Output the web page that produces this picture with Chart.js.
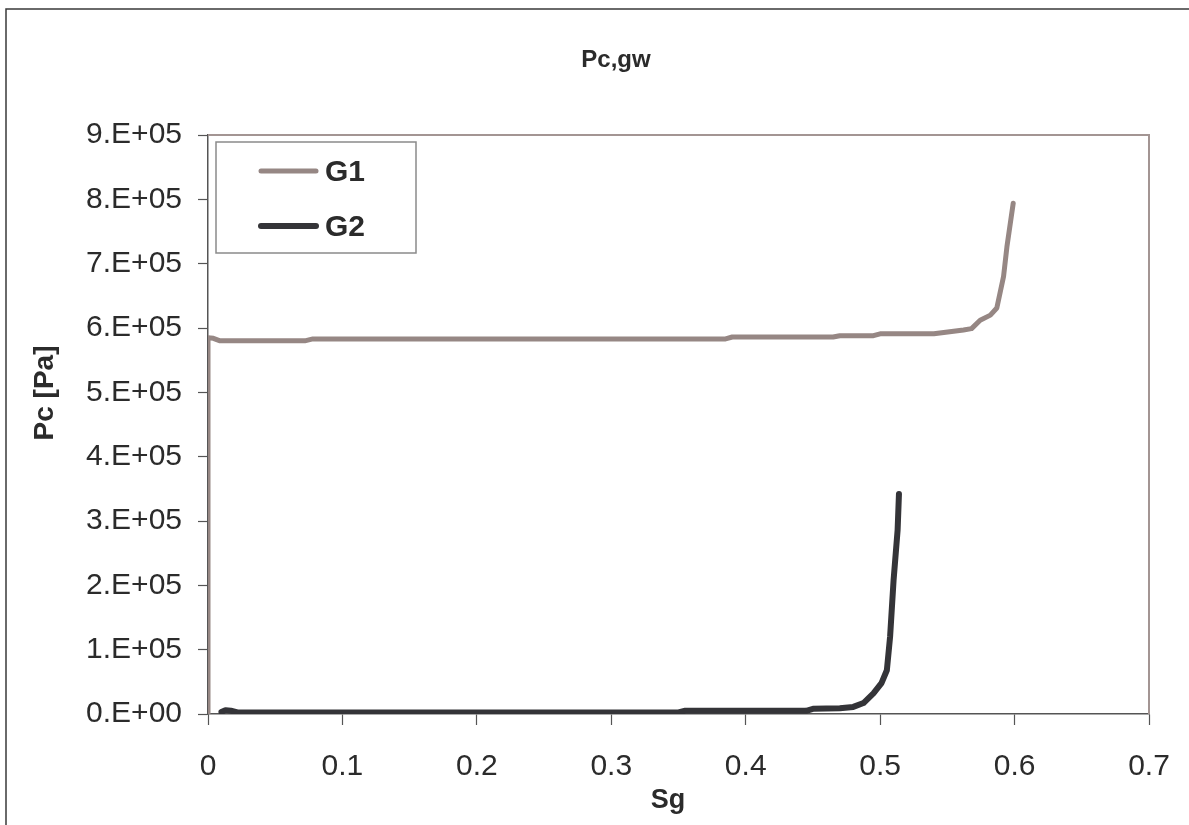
<!DOCTYPE html>
<html>
<head>
<meta charset="utf-8">
<script src="https://cdn.jsdelivr.net/npm/chart.js@4.4.0/dist/chart.umd.min.js"></script>
<style>
  html, body { margin: 0; padding: 0; background: #fff; }
  canvas { display: block; }
</style>
</head>
<body>
<canvas id="pcChart" width="1189" height="825"></canvas>
<script>
// Sg / Pc readings for the two curves
const g1Sg = [0, 0, 0.004, 0.009, 0.072, 0.078, 0.385, 0.39, 0.465, 0.47, 0.495, 0.50, 0.54, 0.562, 0.568, 0.5744, 0.582, 0.5868, 0.5918, 0.5943, 0.599];
const g1Pc = [0, 5.85e5, 5.84e5, 5.80e5, 5.80e5, 5.83e5, 5.83e5, 5.86e5, 5.86e5, 5.88e5, 5.88e5, 5.91e5, 5.91e5, 5.97e5, 5.99e5, 6.12e5, 6.20e5, 6.31e5, 6.80e5, 7.26e5, 7.94e5];

const g2Sg = [0.010, 0.013, 0.017, 0.022, 0.35, 0.355, 0.445, 0.45, 0.47, 0.48, 0.4876, 0.495, 0.501, 0.505, 0.5074, 0.510, 0.513, 0.514];
const g2Pc = [3e3, 6e3, 5e3, 2.5e3, 2.5e3, 5e3, 5e3, 8e3, 9e3, 1.1e4, 1.7e4, 3.2e4, 4.8e4, 6.8e4, 1.2e5, 2.08e5, 2.86e5, 3.42e5];

const seriesNames = ['G1', 'G2'];
const seriesColors = ['#968784', '#343438'];

const xTicks = [0, 0.1, 0.2, 0.3, 0.4, 0.5, 0.6, 0.7];
const yTicks = [0, 1e5, 2e5, 3e5, 4e5, 5e5, 6e5, 7e5, 8e5, 9e5];

const chartTitle = 'Pc,gw';
const xTitle = 'Sg';
const yTitle = 'Pc [Pa]';

const FONT = "'Liberation Sans', Arial, Helvetica, sans-serif";
const textColor = '#2b2b2b';

function toPoints(xs, ys) {
    return xs.map((x, i) => ({ x: x, y: ys[i] }));
}

// white page, outer frame, plot border, titles and legend box
const framePlugin = {
    id: 'frame',
    beforeDraw(chart) {
        const c = chart.ctx;
        c.save();
        c.fillStyle = '#fff';
        c.fillRect(0, 0, chart.width, chart.height);
        c.strokeStyle = '#3a3a3a';
        c.lineWidth = 1.5;
        c.beginPath();
        c.moveTo(6, chart.height);
        c.lineTo(6, 9);
        c.lineTo(chart.width, 9);
        c.stroke();
        c.restore();
    },
    beforeDatasetsDraw(chart) {
        const a = chart.chartArea;
        const c = chart.ctx;
        c.save();
        c.strokeStyle = '#a39593';
        c.lineWidth = 2;
        c.beginPath();
        c.moveTo(a.left, a.top);
        c.lineTo(a.right, a.top);
        c.lineTo(a.right, a.bottom);
        c.stroke();

        // chart and axis titles
        c.fillStyle = textColor;
        c.textAlign = 'center';
        c.textBaseline = 'middle';
        c.font = 'bold 24px ' + FONT;
        c.fillText(chartTitle, 616, 60);
        c.font = 'bold 27px ' + FONT;
        c.fillText(xTitle, 668, 801);
        c.translate(45, 393);
        c.rotate(-Math.PI / 2);
        c.font = 'bold 28px ' + FONT;
        c.fillText(yTitle, 0, 0);
        c.restore();
    },
    afterDraw(chart) {
        const a = chart.chartArea;
        const c = chart.ctx;
        const bx = a.left + 8, by = a.top + 7, bw = 200, bh = 111;
        c.save();
        c.fillStyle = '#fff';
        c.fillRect(bx, by, bw, bh);
        c.strokeStyle = '#8a8a8a';
        c.lineWidth = 1.5;
        c.strokeRect(bx, by, bw, bh);
        c.font = 'bold 30px ' + FONT;
        c.textBaseline = 'middle';
        c.lineCap = 'round';
        seriesNames.forEach((name, i) => {
            const y = by + 29 + i * 55;
            c.strokeStyle = seriesColors[i];
            c.lineWidth = i === 0 ? 5 : 6;
            c.beginPath();
            c.moveTo(bx + 45, y);
            c.lineTo(bx + 100, y);
            c.stroke();
            c.fillStyle = textColor;
            c.fillText(name, bx + 109, y + 2);
        });
        c.restore();
    }
};

const ctx = document.getElementById('pcChart');

new Chart(ctx, {
    type: 'scatter',
    data: {
        datasets: [
            {
                label: seriesNames[0],
                data: toPoints(g1Sg, g1Pc),
                showLine: true,
                borderColor: seriesColors[0],
                backgroundColor: seriesColors[0],
                borderWidth: 5,
                pointRadius: 0,
                tension: 0,
                borderJoinStyle: 'round',
                borderCapStyle: 'round'
            },
            {
                label: seriesNames[1],
                data: toPoints(g2Sg, g2Pc),
                showLine: true,
                borderColor: seriesColors[1],
                backgroundColor: seriesColors[1],
                borderWidth: 6,
                pointRadius: 0,
                tension: 0,
                borderJoinStyle: 'round',
                borderCapStyle: 'round'
            }
        ]
    },
    options: {
        responsive: false,
        animation: false,
        layout: { padding: { left: 0, right: 40, top: 135, bottom: 0 } },
        plugins: {
            legend: { display: false },
            tooltip: { enabled: false },
            title: { display: false }
        },
        scales: {
            x: {
                type: 'linear',
                min: 0,
                max: 0.7,
                afterFit(scale) {
                    scale.height = 111;
                    scale.paddingLeft = 0;
                    scale.paddingRight = 0;
                },
                afterBuildTicks(scale) { scale.ticks = xTicks.map(v => ({ value: v })); },
                border: { display: true, color: '#555', width: 1.5 },
                grid: { drawOnChartArea: false, drawTicks: true, tickLength: 11, color: '#555', tickWidth: 1.2 },
                ticks: {
                    color: textColor,
                    padding: 24,
                    maxRotation: 0,
                    font: { family: FONT, size: 30 },
                    callback: v => String(Number(v.toFixed(1)))
                }
            },
            y: {
                type: 'linear',
                min: 0,
                max: 9e5,
                afterFit(scale) { scale.width = 208; },
                afterBuildTicks(scale) { scale.ticks = yTicks.map(v => ({ value: v })); },
                border: { display: true, color: '#555', width: 1.5 },
                grid: { drawOnChartArea: false, drawTicks: true, tickLength: 10, color: '#555', tickWidth: 1.2 },
                ticks: {
                    color: textColor,
                    padding: 16,
                    font: { family: FONT, size: 30 },
                    callback: v => v === 0 ? '0.E+00' : Math.round(v / 1e5) + '.E+05'
                }
            }
        }
    },
    plugins: [framePlugin]
});
</script>
</body>
</html>
